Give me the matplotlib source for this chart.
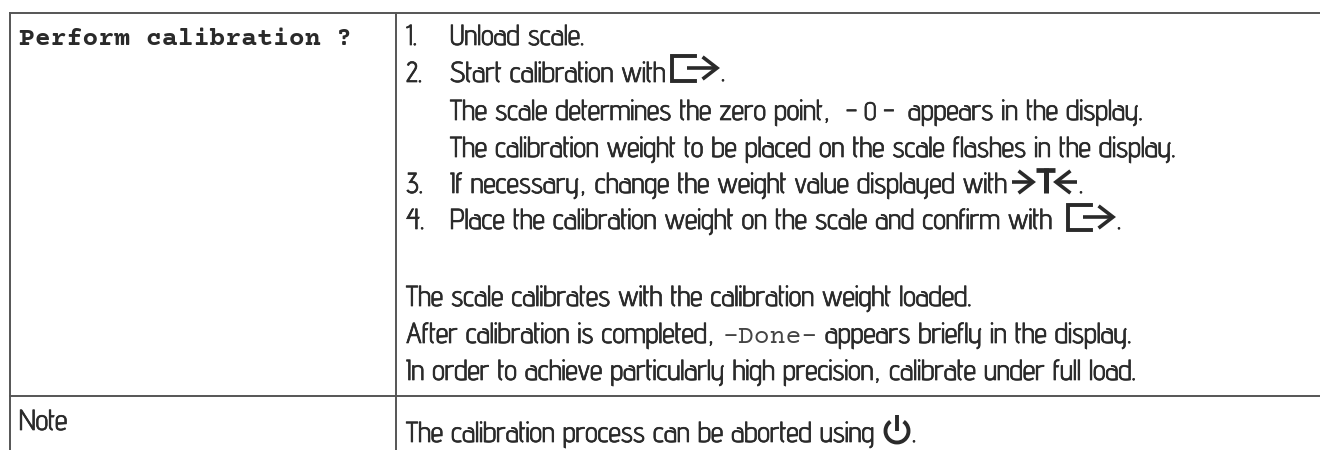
import matplotlib
matplotlib.use("Agg")
import matplotlib.pyplot as plt
import matplotlib.patheffects as pe
from matplotlib.patches import Arc

title_text = "Perform calibration ?"
note_text = "Note"
step_numbers = ["1.", "2.", "3.", "4."]
step_rows = [45, 82, 193, 229]
step_texts = ["Unload scale.", "Start calibration with", "If necessary, change the weight value displayed with",
              "Place the calibration weight on the scale and confirm with"]
info_rows = [120, 157]
info_texts = ["The scale determines the zero point,", "The calibration weight to be placed on the scale flashes in the display."]
tail_rows = [306, 343, 380]
tail_texts = ["The scale calibrates with the calibration weight loaded.",
              "After calibration is completed,",
              "In order to achieve particularly high precision, calibrate under full load."]
abort_text = "The calibration process can be aborted using"

ink = "#2a2a2a"
line_col = "#555555"
body = ["Advent Pro", "Lato"]
courier = ["Courier Prime", "Liberation Mono"]
fs = 20.8
# the narrow font is thin by default, thicken it a bit
thick = [pe.withStroke(linewidth=0.5, foreground=ink)]

fig = plt.figure(figsize=(13.2, 4.5), dpi=100)
ax = fig.add_axes([0, 0, 1, 1])
ax.set_xlim(0, 1320)
ax.set_ylim(450, 0)
ax.axis("off")


def put(x, y, s, size=fs):
    ax.text(x, y, s, family=body, fontsize=size, color=ink, va="baseline", path_effects=thick)


def mono(x, y, s, size=19, weight="normal", col=ink):
    ax.text(x, y, s, family=courier, weight=weight, fontsize=size, color=col, va="baseline")


def arrow(x0, x1, y, lw=2.6):
    # head is at x1
    d = 13 if x1 > x0 else -13
    ax.plot([x0, x1], [y, y], color=ink, lw=lw, solid_capstyle="butt")
    ax.plot([x1 - d, x1, x1 - d], [y - 10, y, y + 10], color=ink, lw=lw, solid_joinstyle="miter")


def enter_key(x, y):
    ax.plot([x + 23, x, x, x + 23], [y, y, y + 25, y + 25], color=ink, lw=2.8, solid_joinstyle="miter")
    arrow(x + 15, x + 45, y + 12)


# table rules
ax.plot([10, 1320], [12.5, 12.5], color=line_col, lw=1.4)
ax.plot([10, 1320], [396, 396], color=line_col, lw=1.4)
ax.plot([10, 10], [12.5, 450], color=line_col, lw=1.4)
ax.plot([396, 396], [12.5, 450], color=line_col, lw=1.4)

mono(19, 45, title_text, size=19, weight="bold")
put(19, 430, note_text)

for n, y, t in zip(step_numbers, step_rows, step_texts):
    put(406, y, n)
    put(450, y, t)
for y, t in zip(info_rows, info_texts):
    put(450, y, t)
for y, t in zip(tail_rows, tail_texts):
    put(406, y, t)
put(406, 442, abort_text)

# inline display texts
put(846, 120, "– 0 –", size=18)
put(908, 120, "appears in the display.")
mono(723, 343, "-Done-", size=19, col="#444444")
put(825, 343, "appears briefly in the display.")

# key symbols
enter_key(672, 56)
put(721, 81, ".")
arrow(1012, 1033, 182)
ax.plot([1036, 1055], [170, 170], color=ink, lw=3.4, solid_capstyle="butt")
ax.plot([1045.5, 1045.5], [168, 193], color=ink, lw=3.6, solid_capstyle="butt")
arrow(1077, 1056, 182)
put(1079, 193, ".")
enter_key(1068, 205)
put(1117, 229, ".")
ax.add_patch(Arc((897, 431), 23, 23, theta1=-55, theta2=235, color=ink, lw=2.8))
ax.plot([897, 897], [415, 431], color=ink, lw=2.8, solid_capstyle="butt")
put(912, 442, ".")

fig.savefig("out.png", dpi=100)
